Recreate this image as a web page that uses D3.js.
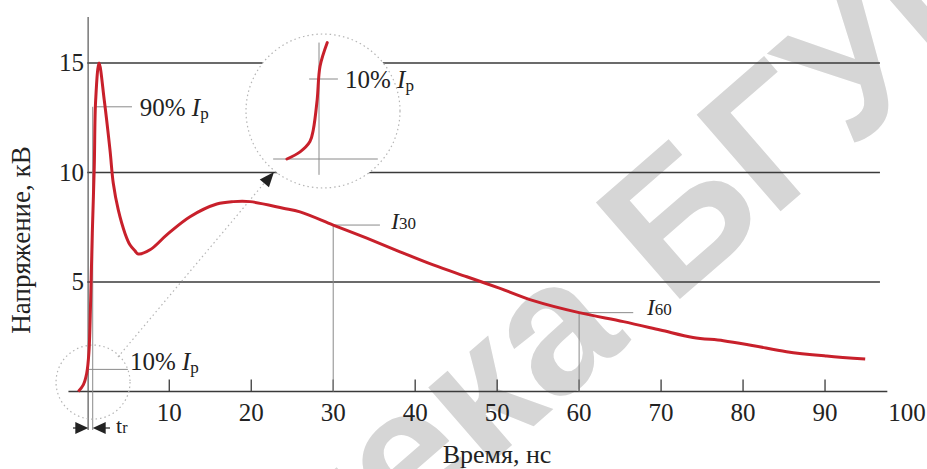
<!DOCTYPE html>
<html>
<head>
    <meta charset="utf-8">
    <style>
        body {
            margin: 0;
            background: #fff;
        }

        svg {
            display: block;
            font-family: 'Liberation Serif', 'Times New Roman', serif;
        }

        .grid line {
            stroke: #3a3a3a;
            stroke-width: 1.3px;
        }

        .thin {
            stroke: #8a8a8a;
            stroke-width: 1px;
        }

        .tick_label {
            font-size: 25px;
            fill: #222;
        }

        .annotation {
            font-size: 25px;
            fill: #222;
        }

        .dotted {
            fill: none;
            stroke: #b5b5b5;
            stroke-width: 1.2px;
            stroke-dasharray: 1.5 3;
        }
    </style>
</head>
<body>
    <svg class="chart" width="927" height="469"></svg>

<script src="https://d3js.org/d3.v7.min.js"></script>
<script>
    // pulse waveform (ns, kV)
    const timeNs = [-1.1, -0.49, -0.07, 0.2, 0.41, 0.61, 0.85, 1.02, 1.43, 2.07, 2.77, 3.17, 3.78,
        4.6, 5.2, 5.82, 6.22, 7.65, 9.69, 12.53, 15.8, 17.8, 19.85, 23.9, 25.95, 30, 34.1, 38.15,
        42.2, 46.3, 50.35, 54.4, 60, 65.4, 69.9, 73.9, 77.6, 81.3, 85.3, 90.2, 94.9];
    const voltKv = [0, 0.3, 0.83, 1.8, 4.18, 7.24, 10.26, 13.3, 15.0, 13.3, 11.02, 9.51, 8.29,
        7.22, 6.7, 6.42, 6.28, 6.47, 7.15, 7.98, 8.56, 8.67, 8.67, 8.37, 8.2, 7.6, 7.0, 6.38,
        5.78, 5.24, 4.71, 4.15, 3.6, 3.19, 2.81, 2.47, 2.32, 2.09, 1.82, 1.62, 1.48];

    // magnified foot of the pulse shown in the round inset
    const insetTimeNs = [-1.12, -0.61, -0.23, -0.1, 0.05, 0.16, 0.44];
    const insetVoltKv = [0, 0.09, 0.22, 0.37, 0.75, 1.17, 1.47];

    const xTicks = [10, 20, 30, 40, 50, 60, 70, 80, 90];
    const xTickLabels = ["10", "20", "30", "40", "50", "60", "70", "80", "90", "100"];
    const yTicks = [5, 10, 15];

    const level90 = 13.0;
    const level10 = 1.01;
    const tr = [0.12, 0.66];
    const i30 = { t: 30, v: 7.6 };
    const i60 = { t: 60, v: 3.6 };

    const svg = d3.select(".chart");

    let x = d3.scaleLinear()
        .domain([0, 100])
        .range([87.3, 907])

    let y = d3.scaleLinear()
        .domain([0, 15])
        .range([391.5, 63])

    let data = timeNs.map((t, i) => ({ t: t, v: voltKv[i] }));

    // watermark, behind everything
    let wm = svg.append("g")
        .attr("transform", "translate(405,538) rotate(-41)")
        .style("font-family", "'Liberation Sans', Arial, sans-serif")
        .style("font-size", "186px")
        .style("font-weight", "bold")
        .style("fill", "#d6d6d6")
    wm.append("text").attr("text-anchor", "end").text("Библиот")
    wm.append("text").attr("text-anchor", "start").text("ека БГУИР")

    // horizontal grid lines
    svg.append("g")
        .attr("class", "grid")
        .selectAll("line")
        .data(yTicks)
        .join("line")
        .attr("x1", x(0))
        .attr("x2", x(96.7))
        .attr("y1", d => y(d))
        .attr("y2", d => y(d))

    // x axis: line + little upward ticks
    svg.append("line")
        .attr("x1", x(-2.3)).attr("x2", x(97.6))
        .attr("y1", y(0)).attr("y2", y(0))
        .attr("stroke", "#3a3a3a").attr("stroke-width", 1.5)

    svg.append("g")
        .selectAll("line")
        .data(xTicks)
        .join("line")
        .attr("x1", d => x(d)).attr("x2", d => x(d))
        .attr("y1", y(0)).attr("y2", y(0) - 12)
        .attr("stroke", "#3a3a3a").attr("stroke-width", 1.3)

    svg.append("g")
        .selectAll("text")
        .data(xTickLabels)
        .join("text")
        .attr("class", "tick_label")
        .attr("x", d => x(+d))
        .attr("y", 421)
        .attr("text-anchor", "middle")
        .text(d => d)

    // y axis
    svg.append("line")
        .attr("x1", x(0.1)).attr("x2", x(0.1))
        .attr("y1", y(17.1)).attr("y2", 430)
        .attr("stroke", "#555").attr("stroke-width", 1.2)

    svg.append("g")
        .selectAll("text")
        .data(yTicks)
        .join("text")
        .attr("class", "tick_label")
        .attr("x", 84)
        .attr("y", d => y(d) + 8)
        .attr("text-anchor", "end")
        .text(d => d)

    svg.append("text")
        .attr("transform", "translate(30,240) rotate(-90)")
        .attr("text-anchor", "middle")
        .style("font-size", "27px")
        .style("fill", "#222")
        .text("Напряжение, кВ")

    svg.append("text")
        .attr("x", 497)
        .attr("y", 463)
        .attr("text-anchor", "middle")
        .style("font-size", "26px")
        .style("fill", "#222")
        .text("Время, нс")

    // marker lines
    let marks = svg.append("g").attr("class", "thin")

    marks.append("line")
        .attr("x1", x(tr[1])).attr("x2", x(tr[1]))
        .attr("y1", y(level90)).attr("y2", 430)
    marks.append("line")
        .attr("x1", x(1.05)).attr("x2", x(5.45))
        .attr("y1", y(level90)).attr("y2", y(level90))
    marks.append("line")
        .attr("x1", x(tr[0])).attr("x2", x(4.95))
        .attr("y1", y(level10)).attr("y2", y(level10))

    ;[[i30, 5.7], [i60, 6.6]].forEach(([m, len]) => {
        marks.append("line")
            .attr("x1", x(m.t)).attr("x2", x(m.t))
            .attr("y1", y(0)).attr("y2", y(m.v))
        marks.append("line")
            .attr("x1", x(m.t)).attr("x2", x(m.t + len))
            .attr("y1", y(m.v)).attr("y2", y(m.v))
    })

    // small dotted circle round the foot + connector to the inset
    let small = { cx: x(0.7), cy: y(0.43), r: 37 };
    let big = { cx: 323, cy: 111, r: 77 };

    svg.append("circle")
        .attr("class", "dotted")
        .attr("cx", small.cx).attr("cy", small.cy).attr("r", small.r)

    svg.append("line")
        .attr("class", "dotted")
        .attr("x1", 118).attr("y1", 357)
        .attr("x2", 266).attr("y2", 181)

    // arrow head at end of the connector
    let ang = Math.atan2(181 - 357, 266 - 118) * 180 / Math.PI;
    svg.append("path")
        .attr("d", "M0,0 L-15,-6 L-15,6 Z")
        .attr("transform", `translate(274,172) rotate(${ang})`)
        .attr("fill", "#222")

    // main curve
    let line = d3.line()
        .x(d => x(d.t))
        .y(d => y(d.v))
        .curve(d3.curveCatmullRom.alpha(0.5))

    svg.append("path")
        .datum(data)
        .attr("d", line)
        .attr("fill", "none")
        .attr("stroke", "#c8202b")
        .attr("stroke-width", 3)
        .attr("stroke-linejoin", "round")

    // inset: white disc covering the grid
    svg.append("circle")
        .attr("cx", big.cx).attr("cy", big.cy).attr("r", big.r)
        .attr("fill", "#fff")
    svg.append("circle")
        .attr("class", "dotted")
        .attr("cx", big.cx).attr("cy", big.cy).attr("r", big.r)

    let ix = d3.scaleLinear()
        .domain([-1.2, 0.12])
        .range([284.8, 319])

    let iy = d3.scaleLinear()
        .domain([0, level10])
        .range([159, 79])

    let inset = svg.append("g").attr("class", "thin")
    inset.append("line")
        .attr("x1", ix(0.12)).attr("x2", ix(0.12))
        .attr("y1", iy(1.47)).attr("y2", iy(-0.2))
    inset.append("line")
        .attr("x1", ix(-1.65)).attr("x2", ix(2.39))
        .attr("y1", iy(0)).attr("y2", iy(0))
    inset.append("line")
        .attr("x1", ix(-0.26)).attr("x2", ix(0.85))
        .attr("y1", iy(level10)).attr("y2", iy(level10))

    let insetLine = d3.line()
        .x(d => ix(d.t))
        .y(d => iy(d.v))
        .curve(d3.curveCatmullRom.alpha(0.5))

    svg.append("path")
        .datum(insetTimeNs.map((t, i) => ({ t: t, v: insetVoltKv[i] })))
        .attr("d", insetLine)
        .attr("fill", "none")
        .attr("stroke", "#c8202b")
        .attr("stroke-width", 3)
        .attr("stroke-linecap", "round")

    // labels  "NN% Ip"
    function pctLabel(px, py, pct) {
        let t = svg.append("text")
            .attr("class", "annotation")
            .attr("x", px).attr("y", py)
        t.append("tspan").text(pct + "% ")
        t.append("tspan").style("font-style", "italic").text("I")
        t.append("tspan").style("font-size", "17px").attr("dy", 3).text("р")
    }
    pctLabel(x(6.4), y(level90) + 9, 90)
    pctLabel(x(5.2), y(level10) + 1, 10)
    pctLabel(345, iy(level10) + 9, 10)

    function iLabel(px, py, sub) {
        let t = svg.append("text")
            .attr("class", "annotation")
            .attr("x", px).attr("y", py)
        t.append("tspan").style("font-style", "italic").style("font-size", "23px").text("I")
        t.append("tspan").style("font-size", "17px").text(sub)
    }
    iLabel(x(i30.t) + 58, y(i30.v) + 4, "30")
    iLabel(x(i60.t) + 68, y(i60.v) + 2, "60")

    // rise-time arrows
    function arrow(xFrom, xTo, yy) {
        let dir = Math.sign(xTo - xFrom);
        svg.append("line")
            .attr("x1", xFrom).attr("x2", xTo - dir * 8)
            .attr("y1", yy).attr("y2", yy)
            .attr("stroke", "#222").attr("stroke-width", 1.2)
        svg.append("path")
            .attr("d", `M${xTo},${yy} L${xTo - dir * 13},${yy - 6} L${xTo - dir * 13},${yy + 6} Z`)
            .attr("fill", "#222")
    }
    arrow(73, x(tr[0]), 428)
    arrow(110, x(tr[1]), 428)

    let trText = svg.append("text")
        .attr("class", "annotation")
        .attr("x", 116).attr("y", 433)
    trText.append("tspan").style("font-size", "22px").text("t")
    trText.append("tspan").style("font-size", "16px").text("r")
</script>
</body>
</html>
